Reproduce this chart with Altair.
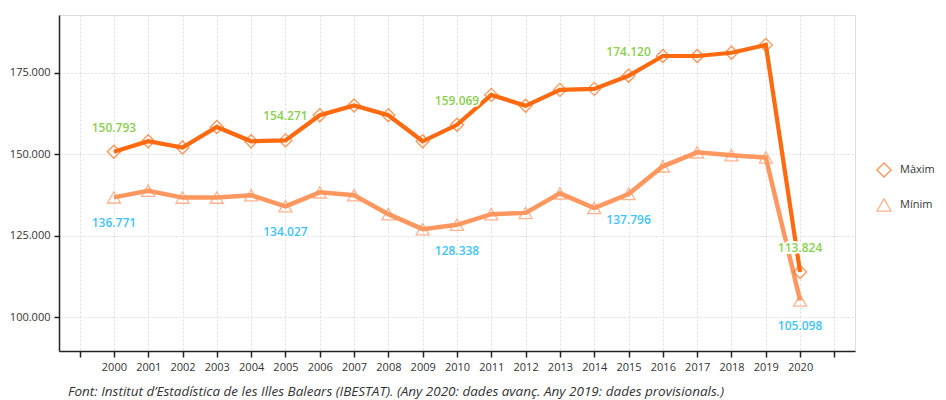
import altair as alt
import pandas as pd

anys = list(range(2000, 2021))
maxims = [150793, 154000, 152100, 158400, 154000, 154271, 162000, 165000, 162000, 154000,
          159069, 168250, 164900, 169800, 170100, 174120, 180200, 180200, 181200, 183600, 113824]
minims = [136771, 138800, 136700, 136700, 137400, 134027, 138300, 137400, 131600, 127000,
          128338, 131600, 132000, 138000, 133500, 137796, 146300, 150600, 149700, 149000, 105098]
series = ["Màxim", "Mínim"]
anys_etiqueta = [2000, 2005, 2010, 2015, 2020]
font_text = "Font: Institut d\u2019Estadística de les Illes Balears (IBESTAT). (Any 2020: dades avanç. Any 2019: dades provisionals.)"

rows = []
for a, mx, mn in zip(anys, maxims, minims):
    rows.append({"any": a, "valor": mx, "serie": series[0], "etiqueta": a in anys_etiqueta})
    rows.append({"any": a, "valor": mn, "serie": series[1], "etiqueta": a in anys_etiqueta})
df = pd.DataFrame(rows)

W, H = 796, 336
FONT = "Open Sans"

xscale = alt.Scale(domain=[1998.4, 2021.6], nice=False, zero=False)
yscale = alt.Scale(domain=[89570, 192790], nice=False, zero=False)
pt_scale = alt.Scale(domain=series, range=["#ff6a10", "#ff9560"])
sscale = alt.Scale(domain=series, range=["diamond", "triangle-up"])

xaxis = alt.Axis(values=list(range(1999, 2022)), format="d",
                 labelExpr="datum.value < 2000 || datum.value > 2020 ? '' : datum.label",
                 labelOverlap=False,
                 grid=True, gridDash=[2, 2], gridColor="#dcdcdc",
                 domainColor="#222", domainWidth=1.5, tickColor="#222", tickWidth=1.5,
                 tickSize=6, labelPadding=4, labelFontSize=11, labelColor="#333",
                 labelFont=FONT)
yaxis = alt.Axis(values=[100000, 125000, 150000, 175000],
                 labelExpr="replace(format(datum.value, ','), ',', '.')",
                 labelOverlap=False,
                 grid=True, gridDash=[2, 2], gridColor="#dcdcdc",
                 domainColor="#222", domainWidth=1.5, tickColor="#222", tickWidth=1.5,
                 tickSize=5, labelPadding=4, labelFontSize=11, labelColor="#333",
                 labelFont=FONT)
x = alt.X("any:Q", scale=xscale, title=None, axis=xaxis)
y = alt.Y("valor:Q", scale=yscale, title=None, axis=yaxis)

leg = alt.Legend(title=None, orient="none", legendX=817, legendY=147,
                 padding=0, symbolSize=200, symbolStrokeWidth=1.3,
                 rowPadding=16, labelOffset=8, labelFontSize=11,
                 labelColor="#333", labelFont=FONT)

base = alt.Chart(df)

line_max = base.transform_filter(alt.datum.serie == series[0]).mark_line(
    strokeWidth=4.2, color="#ff6a10").encode(x=x, y=y)
line_min = base.transform_filter(alt.datum.serie == series[1]).mark_line(
    strokeWidth=4.5, color="#ff8c4e", opacity=0.9).encode(x=x, y=y)

points = base.mark_point(filled=False, size=170, strokeWidth=1.3).encode(
    x=x, y=y,
    color=alt.Color("serie:N", scale=pt_scale, legend=leg),
    shape=alt.Shape("serie:N", scale=sscale, legend=leg),
)

def labels(serie, dy, color):
    b = base.transform_filter(
        (alt.datum.etiqueta == True) & (alt.datum.serie == serie)
    ).transform_calculate(
        txt="replace(format(datum.valor, ','), ',', '.')"
    )
    halo = b.mark_text(dy=dy, fontSize=12, fontWeight=600, color="white", stroke="white",
                       strokeWidth=4, font=FONT).encode(x=x, y=y, text="txt:N")
    txt = b.mark_text(dy=dy, fontSize=12, fontWeight=600, color=color, font=FONT).encode(
        x=x, y=y, text="txt:N")
    return halo, txt

hmax, lab_max = labels(series[0], -24, "#8ccf4f")
hmin, lab_min = labels(series[1], 26, "#3fc3ff")

footer = alt.Chart(pd.DataFrame({"t": [font_text]})).mark_text(
    align="left", baseline="middle", fontStyle="italic", fontSize=13.5, color="#333", font=FONT
).encode(x=alt.value(9), y=alt.value(H + 41), text="t:N")

chart = alt.layer(line_max, line_min, points, hmax, hmin, lab_max, lab_min, footer).properties(
    width=W, height=H, autosize="none",
    padding={"left": 51, "top": 7, "right": 83, "bottom": 49},
).configure_view(stroke=None).configure(background="white")

chart.save("out.html", embed_options={"renderer": "svg", "actions": False})
